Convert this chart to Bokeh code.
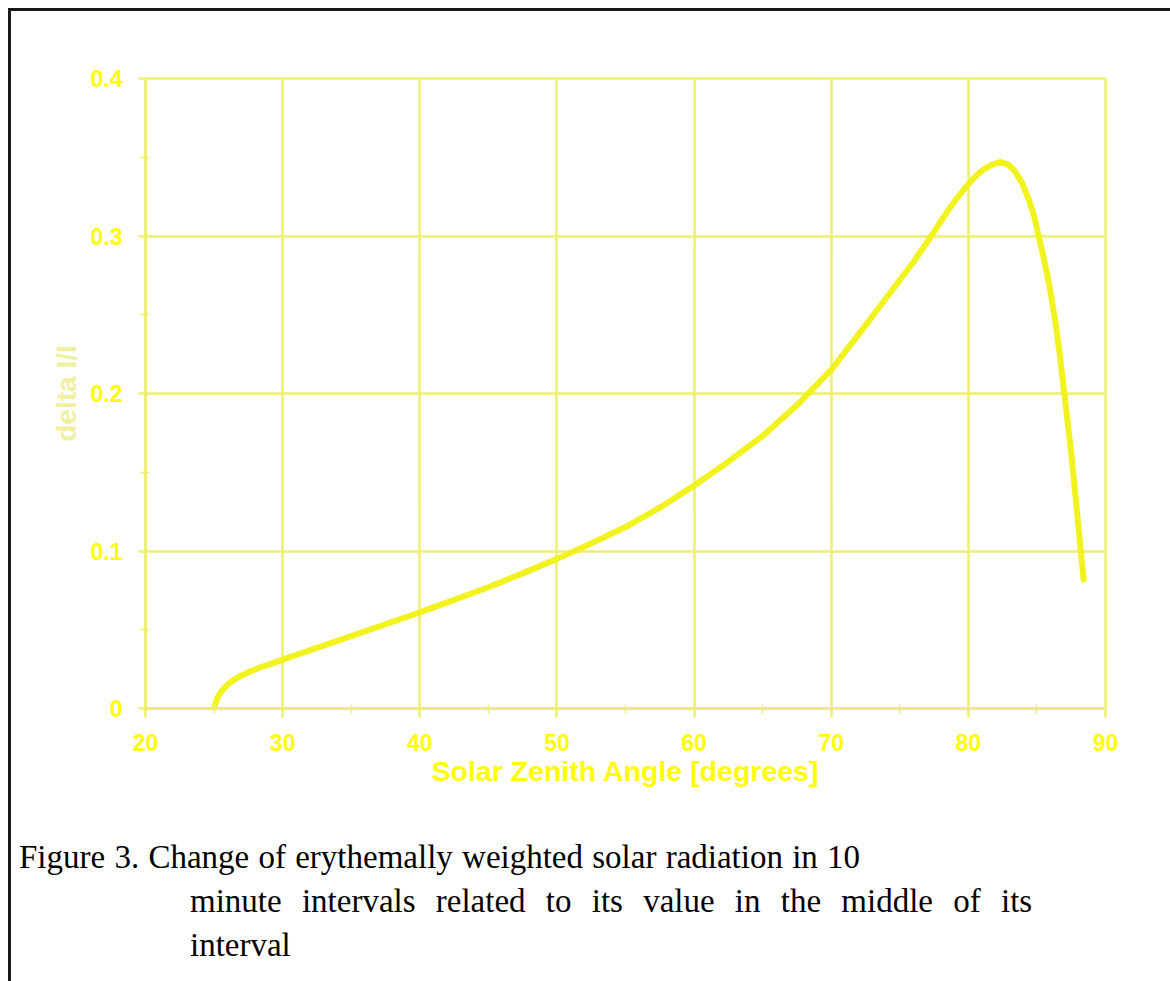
from bokeh.plotting import figure
from bokeh.models import Range1d, FixedTicker, Div
from bokeh.layouts import column
from bokeh.embed import file_html
from bokeh.resources import INLINE

# ---- data ----
sza = [25.0, 25.2, 25.5, 25.9, 26.4, 27.0, 27.7, 28.5, 29.3, 30.0, 32.5, 35.0,
       37.5, 40.0, 42.5, 45.0, 47.5, 50.0, 52.5, 55.0, 57.5, 60.0, 62.5, 65.0,
       67.5, 70.0, 72.0, 74.0, 76.0, 77.3, 78.5, 79.3, 80.0, 80.6, 81.2, 81.7,
       82.3, 82.9, 83.4, 83.9, 84.4, 84.8, 85.1, 85.5, 85.9, 86.3, 86.6, 87.0,
       87.5, 88.0, 88.2, 88.4]
delta = [0.000, 0.006, 0.0105, 0.0145, 0.018, 0.021, 0.0238, 0.0265, 0.0288,
         0.031, 0.0385, 0.046, 0.0535, 0.061, 0.069, 0.077, 0.0858, 0.095,
         0.1048, 0.1152, 0.1275, 0.1415, 0.1567, 0.1730, 0.1925, 0.2150, 0.2375,
         0.2605, 0.2835, 0.300, 0.316, 0.3255, 0.333, 0.3385, 0.3428, 0.3452,
         0.347, 0.3455, 0.341, 0.334, 0.3235, 0.3125, 0.301, 0.286, 0.269,
         0.248, 0.229, 0.200, 0.162, 0.118, 0.100, 0.082]

x_ticks = [20, 30, 40, 50, 60, 70, 80, 90]
x_minor = [25, 35, 45, 55, 65, 75, 85]
y_ticks = [0, 0.1, 0.2, 0.3, 0.4]
y_tick_labels = ["0", "0.1", "0.2", "0.3", "0.4"]
y_minor = [0.05, 0.15, 0.25, 0.35]
x_title = "Solar Zenith Angle [degrees]"
y_title = "delta I/I"
caption_lines = [
    "Figure 3. Change of erythemally weighted solar radiation in 10",
    "minute intervals related to its value in the middle of its",
    "interval",
]

YEL = "#ffff00"
GRID = "#eeee70"
CURVE = "#f2f21e"
SANS = "Liberation Sans"

p = figure(width=1150, height=789, x_range=Range1d(20, 90), y_range=Range1d(0, 0.4),
           output_backend="svg", toolbar_location=None,
           min_border_left=134, min_border_right=56, min_border_top=67, min_border_bottom=92)
p.background_fill_color = "white"
p.border_fill_color = "white"
p.outline_line_color = GRID
p.outline_line_width = 2.5

for ax, ticks, minor in ((p.xaxis[0], x_ticks, x_minor), (p.yaxis[0], y_ticks, y_minor)):
    ax.ticker = FixedTicker(ticks=ticks, minor_ticks=minor)
    ax.axis_line_color = GRID
    ax.axis_line_width = 3
    ax.major_tick_line_color = GRID
    ax.major_tick_line_width = 2.5
    ax.major_tick_in = 0
    ax.minor_tick_line_color = GRID
    ax.minor_tick_line_width = 1.5
    ax.minor_tick_in = 4
    ax.minor_tick_out = 5
    ax.major_label_text_font = SANS
    ax.major_label_text_font_style = "bold"
    ax.major_label_text_font_size = "23px"
    ax.major_label_text_color = YEL
    ax.axis_label_text_font = SANS
    ax.axis_label_text_font_style = "bold"

p.xaxis.major_tick_out = 9
p.xaxis.major_label_standoff = 16
p.xaxis.axis_label = x_title
p.xaxis.axis_label_text_font_size = "28.5px"
p.xaxis.axis_label_text_color = YEL
p.xaxis.axis_label_standoff = 1

p.yaxis.major_tick_out = 7
p.yaxis.major_label_standoff = 16
p.yaxis.major_label_overrides = {t: s for t, s in zip(y_ticks, y_tick_labels)}
p.yaxis.axis_label = y_title
p.yaxis.axis_label_text_font_size = "28px"
p.yaxis.axis_label_text_color = "#f0f0a0"
p.yaxis.axis_label_standoff = 6

p.xgrid.ticker = FixedTicker(ticks=x_ticks)
p.ygrid.ticker = FixedTicker(ticks=y_ticks)
for g in (p.xgrid[0], p.ygrid[0]):
    g.grid_line_color = GRID
    g.grid_line_width = 2.5

p.line(sza, delta, line_color=CURVE, line_width=6, line_cap="round", line_join="round")

# ---- caption ----
indents = [3, 174, 174]
word_gaps = [1, 12, 0]
cap_html = "".join(
    '<div style="padding-left:%dpx; word-spacing:%dpx; white-space:nowrap;">%s</div>'
    % (ind, ws, line)
    for ind, ws, line in zip(indents, word_gaps, caption_lines)
)
cap_html = ('<div style="font-family:\'Liberation Serif\',serif; font-size:33px; '
            'line-height:44px; color:black; padding-top:30px;">' + cap_html + '</div>')
cap = Div(text=cap_html, width=1150, height=178)

layout = column(p, cap, styles={"border-top": "3px solid #1a1a1a",
                                "border-left": "3px solid #1a1a1a",
                                "margin-top": "8px", "margin-left": "8px",
                                "background-color": "white"})

open("out.html", "w").write(file_html(layout, INLINE))
